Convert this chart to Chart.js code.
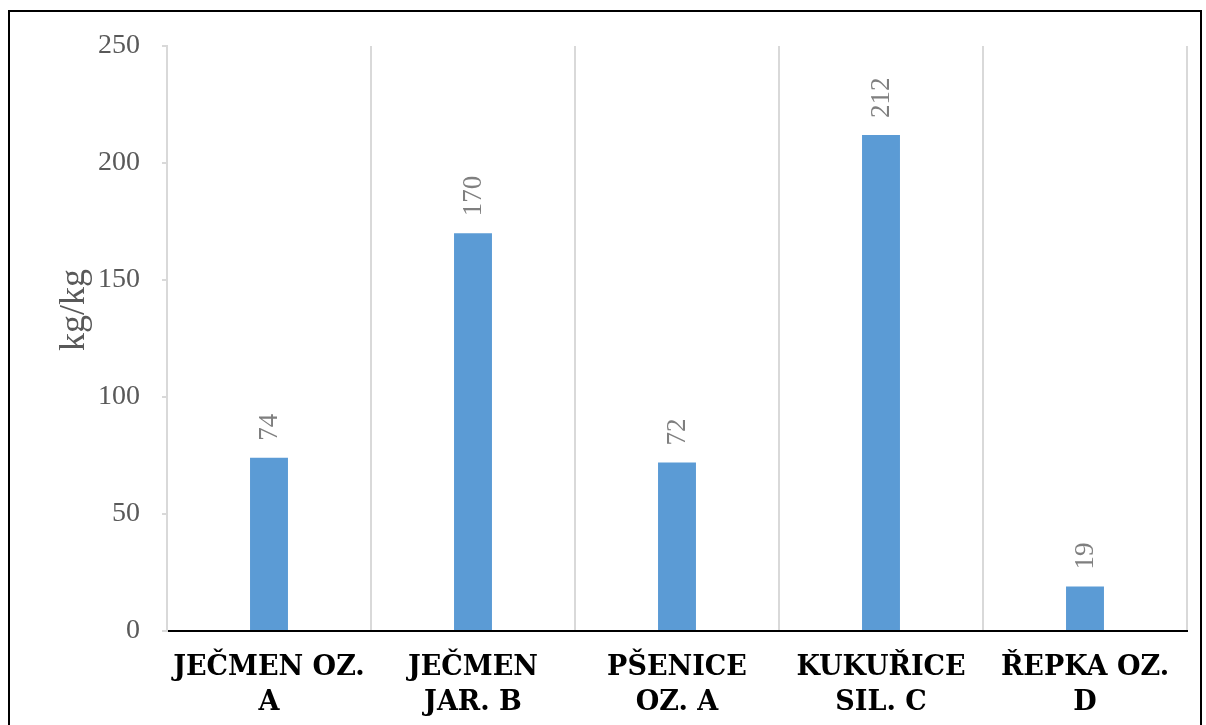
<!DOCTYPE html>
<html>
<head>
<meta charset="utf-8">
<script src="https://cdn.jsdelivr.net/npm/chart.js@4/dist/chart.umd.min.js"></script>
<style>
  body { margin: 0; background: #fff; overflow: hidden; }
  #frame { position: absolute; left: 8px; top: 10px; width: 1190px; height: 730px; border: 2px solid #000; }
  #wrap { position: absolute; left: 0; top: 0; width: 1206px; height: 725px; }
</style>
</head>
<body>
<div id="frame"></div>
<div id="wrap"><canvas id="myChart" width="1206" height="725"></canvas></div>
<script>
let categories = [['JEČMEN OZ.', 'A'], ['JEČMEN', 'JAR. B'], ['PŠENICE', 'OZ. A'], ['KUKUŘICE', 'SIL. C'], ['ŘEPKA OZ.', 'D']];
let values = [74, 170, 72, 212, 19];
let yTicks = [0, 50, 100, 150, 200, 250];
let yTitle = 'kg/kg';

// rotated value labels above each bar, plus the axis title
let barLabels = {
    id: 'barLabels',
    afterDatasetsDraw(chart) {
        let ctx = chart.ctx;
        let meta = chart.getDatasetMeta(0);
        ctx.save();
        ctx.font = '27px "Liberation Serif"';
        ctx.fillStyle = '#7f7f7f';
        ctx.textAlign = 'left';
        ctx.textBaseline = 'middle';
        meta.data.forEach((bar, i) => {
            ctx.save();
            ctx.translate(bar.x, bar.y - 17);
            ctx.rotate(-Math.PI / 2);
            ctx.fillText(String(chart.data.datasets[0].data[i]), 0, 1);
            ctx.restore();
        });
        ctx.save();
        ctx.font = '36px "Liberation Serif"';
        ctx.fillStyle = '#595959';
        ctx.textAlign = 'center';
        ctx.translate(75, 310);
        ctx.rotate(-Math.PI / 2);
        ctx.fillText(yTitle, 0, 0);
        ctx.restore();
        ctx.restore();
    }
};

let myChart = document.getElementById('myChart').getContext('2d');
let uptakeChart = new Chart(myChart, {
    type: 'bar',
    data: {
        labels: categories,
        datasets: [{
            data: values,
            backgroundColor: '#5b9bd5',
            borderWidth: 0,
            categoryPercentage: 1,
            barPercentage: 0.186
        }]
    },
    options: {
        responsive: false,
        animation: false,
        layout: { padding: { top: 46, right: 19, bottom: 0, left: 56 } },
        plugins: { legend: { display: false }, tooltip: { enabled: false } },
        scales: {
            x: {
                grid: { offset: true, color: '#d9d9d9', lineWidth: 2, drawTicks: false },
                border: { color: '#000', width: 2 },
                ticks: {
                    color: '#000',
                    padding: 19,
                    maxRotation: 0,
                    font: { family: '"DejaVu Serif"', size: 27, weight: 'bold', lineHeight: 1.3 }
                },
                afterFit(scale) { scale.height = 94; }
            },
            y: {
                min: 0,
                max: 250,
                afterBuildTicks(scale) { scale.ticks = yTicks.map(v => ({ value: v })); },
                grid: { drawOnChartArea: false, drawTicks: true, tickLength: 5, color: '#d9d9d9', lineWidth: 2 },
                border: { color: '#d9d9d9', width: 2 },
                ticks: {
                    color: '#595959',
                    padding: 22,
                    font: { family: '"Liberation Serif"', size: 28 }
                },
                afterFit(scale) { scale.width = 111; }
            }
        }
    },
    plugins: [barLabels]
});
</script>
</body>
</html>
